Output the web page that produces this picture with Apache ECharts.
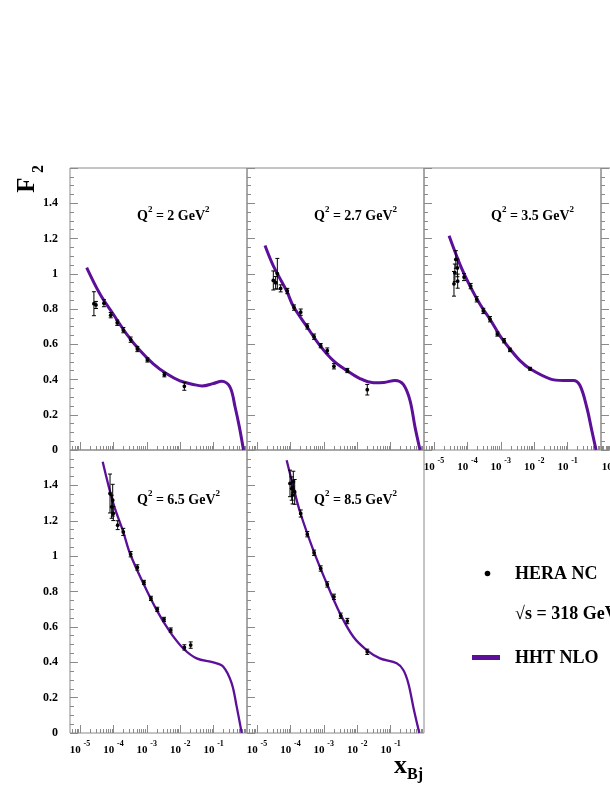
<!DOCTYPE html>
<html><head><meta charset="utf-8">
<script src="https://cdn.jsdelivr.net/npm/echarts@6/dist/echarts.min.js"></script>
<style>html,body{margin:0;padding:0;background:#fff}#c{width:610px;height:790px}</style>
</head><body><div id="c"></div><script>
// ---- data ----
const q2Values = ['2', '2.7', '3.5', '6.5', '8.5'];
const majorTicksX = [1e-5, 1e-4, 1e-3, 1e-2, 1e-1];
const minorMultipliers = [2, 3, 4, 5, 6, 7, 8, 9];
const xMin = 5e-6, xMax = 1;
const yMin = 0, yMax = 1.6, yStep = 0.2;

// HHT NLO curves [x, F2]
const curveQ2_2 = [[1.58e-5,1.035],[3.95e-5,0.885],[9.9e-5,0.77],[2.49e-4,0.658],[6.24e-4,0.564],[1.56e-3,0.489],[3.94e-3,0.432],[9.84e-3,0.392],[2.47e-2,0.372],[4.5e-2,0.363],[9.8e-2,0.377],[0.175,0.39],[0.31,0.357],[0.44,0.244],[0.59,0.131],[0.785,0]];
const curveQ2_27 = [[1.73e-5,1.16],[3.07e-5,1.045],[7.73e-5,0.902],[1.22e-4,0.815],[3.06e-4,0.702],[7.67e-4,0.592],[1.92e-3,0.507],[4.84e-3,0.451],[1.21e-2,0.405],[3.03e-2,0.382],[6.3e-2,0.383],[0.135,0.395],[0.24,0.372],[0.38,0.282],[0.537,0.131],[0.76,0]];
const curveQ2_35 = [[2.82e-5,1.215],[6.0e-5,1.052],[1.2e-4,0.93],[2.38e-4,0.827],[4.74e-4,0.742],[9.46e-4,0.648],[1.88e-3,0.573],[3.75e-3,0.507],[7.48e-3,0.461],[2.97e-2,0.404],[7.45e-2,0.395],[0.149,0.395],[0.235,0.366],[0.373,0.244],[0.527,0.113],[0.71,0]];
const curveQ2_65 = [[4.76e-5,1.533],[9.9e-5,1.298],[1.97e-4,1.137],[3.13e-4,1.015],[7.83e-4,0.846],[1.97e-3,0.695],[4.94e-3,0.572],[1.24e-2,0.478],[3.11e-2,0.422],[9.8e-2,0.399],[0.195,0.375],[0.348,0.281],[0.491,0.149],[0.693,0]];
const curveQ2_85 = [[7.7e-5,1.542],[1.22e-4,1.392],[1.93e-4,1.251],[4.84e-4,1.034],[1.22e-3,0.846],[3.05e-3,0.676],[7.64e-3,0.544],[1.92e-2,0.469],[4.81e-2,0.422],[0.152,0.394],[0.24,0.356],[0.339,0.281],[0.5,0.13],[0.724,0]];

// HERA NC points [x, F2, error]
const heraQ2_2 = [[2.6e-5,0.830,0.068],[3.0e-5,0.823,0.02],[5.2e-5,0.833,0.02],[8.3e-5,0.765,0.015],[1.3e-4,0.722,0.015],[1.98e-4,0.680,0.015],[3.28e-4,0.626,0.015],[5.2e-4,0.573,0.015],[1.04e-3,0.511,0.012],[3.35e-3,0.427,0.012],[1.33e-2,0.361,0.022]];
const heraQ2_27 = [[3.07e-5,0.962,0.054],[3.6e-5,0.949,0.035],[4.05e-5,1.0,0.087],[5.1e-5,0.917,0.02],[8.05e-5,0.902,0.015],[1.28e-4,0.808,0.015],[2.03e-4,0.782,0.018],[3.2e-4,0.701,0.015],[5.1e-4,0.643,0.015],[8.05e-4,0.592,0.012],[1.27e-3,0.564,0.015],[2.01e-3,0.475,0.015],[5.05e-3,0.451,0.012],[2.0e-2,0.342,0.03]];
const heraQ2_35 = [[3.95e-5,0.943,0.07],[4.2e-5,1.005,0.05],[4.5e-5,1.081,0.05],[5.0e-5,1.033,0.05],[5.1e-5,0.958,0.04],[7.9e-5,0.981,0.02],[1.25e-4,0.930,0.015],[1.89e-4,0.855,0.015],[2.99e-4,0.789,0.015],[4.74e-4,0.742,0.015],[7.85e-4,0.658,0.012],[1.25e-3,0.620,0.012],[1.88e-3,0.568,0.01],[7.5e-3,0.461,0.008]];
const heraQ2_65 = [[7.9e-5,1.354,0.11],[8.85e-5,1.279,0.065],[9.5e-5,1.316,0.09],[9.9e-5,1.241,0.04],[1.34e-4,1.175,0.025],[1.97e-4,1.137,0.02],[3.28e-4,1.011,0.015],[5.2e-4,0.936,0.015],[8.2e-4,0.851,0.012],[1.33e-3,0.761,0.012],[2.06e-3,0.699,0.012],[3.27e-3,0.642,0.012],[5.2e-3,0.582,0.012],[1.33e-2,0.484,0.015],[2.06e-2,0.497,0.018]];
const heraQ2_85 = [[9.7e-5,1.411,0.075],[1.09e-4,1.382,0.066],[1.22e-4,1.42,0.06],[1.16e-4,1.345,0.05],[1.34e-4,1.363,0.07],[2.03e-4,1.241,0.02],[3.2e-4,1.124,0.015],[5.1e-4,1.019,0.015],[8.05e-4,0.930,0.015],[1.27e-3,0.840,0.015],[2.01e-3,0.770,0.015],[3.2e-3,0.663,0.015],[5.05e-3,0.633,0.015],[2.0e-2,0.459,0.015]];

const curves = [curveQ2_2, curveQ2_27, curveQ2_35, curveQ2_65, curveQ2_85];
const heraData = [heraQ2_2, heraQ2_27, heraQ2_35, heraQ2_65, heraQ2_85];

// ---- layout / style ----
const FONT = "'Liberation Serif', 'DejaVu Serif', serif";
const PURPLE = '#5c0f99';
const FRAME = '#8a8a8a';
const panels = [
  {left: 70,  top: 168, h: 282, xl: false, yl: true,  q: 0, lw: 3},
  {left: 247, top: 168, h: 282, xl: false, yl: false, q: 1, lw: 3},
  {left: 424, top: 168, h: 282, xl: true,  yl: false, q: 2, lw: 3},
  {left: 601, top: 168, h: 282, xl: true,  yl: false, q: -1, lw: 3},
  {left: 70,  top: 450, h: 283, xl: true,  yl: true,  q: 3, lw: 2.3},
  {left: 247, top: 450, h: 283, xl: true,  yl: false, q: 4, lw: 2.3}
];
const W = 177;

const minorTicksX = [];
[1e-6].concat(majorTicksX).forEach(d => minorMultipliers.forEach(m => {
  const v = d * m; if (v > xMin * 1.0001 && v < xMax) minorTicksX.push(v);
}));

const grids = [], xAxes = [], yAxes = [], series = [], graphics = [];
panels.forEach((p, i) => {
  grids.push({left: p.left, top: p.top, width: W, height: p.h, show: true,
    borderColor: FRAME, borderWidth: 1, backgroundColor: 'transparent', containLabel: false});
  xAxes.push({type: 'log', logBase: 10, gridIndex: i, min: xMin, max: xMax, position: 'bottom',
    axisLine: {show: false}, splitLine: {show: false},
    axisTick: {show: true, inside: true, length: 8, customValues: majorTicksX, lineStyle: {color: FRAME}},
    axisLabel: {show: p.xl, customValues: majorTicksX, margin: 7,
      formatter: v => '{b|10 }{s|' + Math.round(Math.log10(v)) + '}',
      rich: {
        b: {fontFamily: FONT, fontWeight: 'bold', fontSize: 11, lineHeight: 16, verticalAlign: 'bottom', color: '#000'},
        s: {fontFamily: FONT, fontWeight: 'bold', fontSize: 8, lineHeight: 6, verticalAlign: 'top', color: '#000'}
      }}
  });
  xAxes.push({type: 'log', logBase: 10, gridIndex: i, min: xMin, max: xMax, position: 'bottom',
    axisLine: {show: false}, splitLine: {show: false}, axisLabel: {show: false},
    axisTick: {show: true, inside: true, length: 4, customValues: minorTicksX, lineStyle: {color: FRAME}}
  });
  yAxes.push({type: 'value', gridIndex: i, min: yMin, max: yMax, interval: yStep,
    axisLine: {show: false}, splitLine: {show: false},
    axisTick: {show: true, inside: true, length: 8, lineStyle: {color: FRAME}},
    minorTick: {show: true, splitNumber: 4, length: 4, lineStyle: {color: FRAME}},
    axisLabel: {show: p.yl, showMaxLabel: false, margin: 12, color: '#000',
      fontFamily: FONT, fontWeight: 'bold', fontSize: 12,
      formatter: v => String(Math.round(v * 10) / 10)}
  });
  if (p.q >= 0) {
    series.push({type: 'line', xAxisIndex: 2 * i, yAxisIndex: i, data: curves[p.q],
      showSymbol: false, smooth: 0.35, clip: true, silent: true,
      lineStyle: {color: PURPLE, width: p.lw}, z: 2});
    series.push({type: 'custom', xAxisIndex: 2 * i, yAxisIndex: i, data: heraData[p.q],
      encode: {x: 0, y: 1}, z: 3, silent: true,
      renderItem: (params, api) => {
        const x = api.value(0), y = api.value(1), e = api.value(2);
        const c = api.coord([x, y]), t = api.coord([x, y + e]), b = api.coord([x, y - e]);
        const st = {stroke: '#000', lineWidth: 1};
        return {type: 'group', children: [
          {type: 'line', shape: {x1: c[0], y1: t[1], x2: c[0], y2: b[1]}, style: st},
          {type: 'line', shape: {x1: c[0] - 2, y1: t[1], x2: c[0] + 2, y2: t[1]}, style: st},
          {type: 'line', shape: {x1: c[0] - 2, y1: b[1], x2: c[0] + 2, y2: b[1]}, style: st},
          {type: 'circle', shape: {cx: c[0], cy: c[1], r: 1.9}, style: {fill: '#000'}}
        ]};
      }});
    graphics.push({type: 'text', left: p.left + 67, top: (p.top < 300 ? 205 : 489), z: 10,
      style: {text: '{b|Q}{s|2}{b| = ' + q2Values[p.q] + ' GeV}{s|2}',
        rich: {
          b: {fontFamily: FONT, fontWeight: 'bold', fontSize: 14, lineHeight: 18, verticalAlign: 'bottom', fill: '#000'},
          s: {fontFamily: FONT, fontWeight: 'bold', fontSize: 9, lineHeight: 8, verticalAlign: 'top', fill: '#000'}
        }}});
  }
});

// axis titles
graphics.push({type: 'text', x: 28, y: 185, rotation: Math.PI / 2, z: 10,
  style: {text: 'F', font: "bold 25px " + FONT, fill: '#000', align: 'center', verticalAlign: 'middle', textAlign: 'center', textVerticalAlign: 'middle'}});
graphics.push({type: 'text', x: 39, y: 169, rotation: Math.PI / 2, z: 10,
  style: {text: '2', font: "bold 16px " + FONT, fill: '#000', align: 'center', verticalAlign: 'middle', textAlign: 'center', textVerticalAlign: 'middle'}});
graphics.push({type: 'text', x: 394, y: 766, z: 10,
  style: {text: 'x', font: "bold 26px " + FONT, fill: '#000', align: 'left', verticalAlign: 'middle', textAlign: 'left', textVerticalAlign: 'middle'}});
graphics.push({type: 'text', x: 407, y: 775, z: 10,
  style: {text: 'Bj', font: "bold 16px " + FONT, fill: '#000', align: 'left', verticalAlign: 'middle', textAlign: 'left', textVerticalAlign: 'middle'}});

// legend
graphics.push({type: 'circle', shape: {cx: 487.5, cy: 573.5, r: 2.8}, style: {fill: '#000'}, z: 10});
graphics.push({type: 'rect', shape: {x: 472, y: 655, width: 28, height: 5}, style: {fill: PURPLE}, z: 10});
[['HERA NC', 574], ['\u221As = 318 GeV', 614], ['HHT NLO', 658]].forEach(([t, y]) => {
  graphics.push({type: 'text', x: 515, y: y, z: 10,
    style: {text: t, font: "bold 18px " + FONT, fill: '#000', align: 'left', verticalAlign: 'middle', textAlign: 'left', textVerticalAlign: 'middle'}});
});

const chart = echarts.init(document.getElementById('c'), null, {renderer: 'canvas'});
chart.setOption({
  animation: false, backgroundColor: '#fff',
  grid: grids, xAxis: xAxes, yAxis: yAxes, series: series, graphic: graphics
});
</script></body></html>
